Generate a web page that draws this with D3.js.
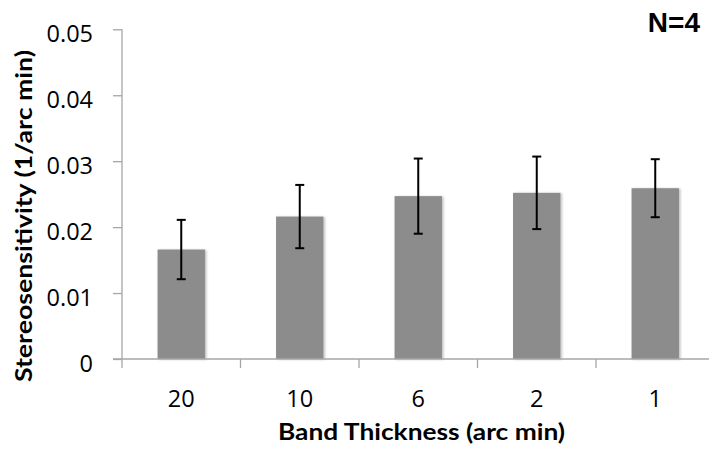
<!DOCTYPE html>
<html>
<head>
<meta charset="utf-8">
<script src="https://cdn.jsdelivr.net/npm/d3@7"></script>
<style>
  html, body { margin: 0; padding: 0; background: #fff; }
  svg { display: block; }
</style>
</head>
<body>
<svg id="chart" width="709" height="449"></svg>
<script>
const categories = ["20", "10", "6", "2", "1"];
const values = [0.0166, 0.0216, 0.0247, 0.0252, 0.0259];
const errors = [0.0045, 0.0048, 0.0057, 0.0055, 0.0044];
const yTicks = [0, 0.01, 0.02, 0.03, 0.04, 0.05];
const yTitle = "Stereosensitivity (1/arc min)";
const xTitle = "Band Thickness (arc min)";
const note = "N=4";

const svg = d3.select("#chart");
const plotLeft = 122, plotRight = 714.5, plotTop = 29.3, plotBottom = 359;
const axisColor = "#a6a6a6";
const font = "Lato, 'Open Sans', sans-serif";
const numFont = "'Open Sans', Lato, sans-serif";

const x = d3.scaleBand().domain(categories).range([plotLeft, plotRight])
  .paddingInner(0.6).paddingOuter(0.3);
const y = d3.scaleLinear().domain([0, 0.05]).range([plotBottom, plotTop]);

const defs = svg.append("defs");
const f = defs.append("filter").attr("id", "shadow")
  .attr("x", "-20%").attr("y", "-20%").attr("width", "140%").attr("height", "140%");
f.append("feDropShadow").attr("dx", 1.5).attr("dy", 0.5).attr("stdDeviation", 1)
  .attr("flood-color", "#000").attr("flood-opacity", 0.25);

// bars
svg.append("g").selectAll("rect").data(values).join("rect")
  .attr("x", (d, i) => x(categories[i]))
  .attr("y", d => y(d))
  .attr("width", x.bandwidth())
  .attr("height", d => y(0) - y(d))
  .attr("fill", "#8c8c8c")
  .attr("filter", "url(#shadow)");

// y axis
const yAxis = d3.axisLeft(y).tickValues(yTicks).tickSize(9).tickFormat(d => d === 0 ? "0" : d3.format(".2f")(d));
const gy = svg.append("g").attr("transform", `translate(${plotLeft},0)`).call(yAxis);
gy.select(".domain").remove();
gy.selectAll(".tick line").attr("stroke", axisColor).attr("stroke-width", 1.3);
gy.selectAll(".tick text").attr("x", -29).attr("dy", "0.72em").attr("y", -4.8)
  .attr("fill", "#000").style("font-family", numFont).style("font-size", "23.5px");
svg.append("line").attr("x1", plotLeft).attr("x2", plotLeft).attr("y1", plotTop).attr("y2", plotBottom + 9)
  .attr("stroke", axisColor).attr("stroke-width", 1.3);

// x axis baseline and boundary ticks
svg.append("line").attr("x1", plotLeft - 9).attr("x2", plotRight).attr("y1", plotBottom).attr("y2", plotBottom)
  .attr("stroke", axisColor).attr("stroke-width", 1.3);
const boundaries = categories.map(c => x(c) + x.bandwidth() / 2 + x.step() / 2);
svg.append("g").selectAll("line").data(boundaries).join("line")
  .attr("x1", d => d).attr("x2", d => d).attr("y1", plotBottom).attr("y2", plotBottom + 9)
  .attr("stroke", axisColor).attr("stroke-width", 1.3);

// x labels
svg.append("g").selectAll("text").data(categories).join("text")
  .attr("x", d => x(d) + x.bandwidth() / 2)
  .attr("y", 406.5)
  .attr("text-anchor", "middle")
  .style("font-family", numFont).style("font-size", "23.5px")
  .text(d => d);

// error bars
const eb = svg.append("g").attr("stroke", "#000").attr("stroke-width", 2);
values.forEach((v, i) => {
  const cx = x(categories[i]) + x.bandwidth() / 2;
  eb.append("line").attr("x1", cx).attr("x2", cx).attr("y1", y(v + errors[i])).attr("y2", y(v - errors[i]));
  eb.append("line").attr("x1", cx - 4.5).attr("x2", cx + 4.5).attr("y1", y(v + errors[i])).attr("y2", y(v + errors[i]));
  eb.append("line").attr("x1", cx - 4.5).attr("x2", cx + 4.5).attr("y1", y(v - errors[i])).attr("y2", y(v - errors[i]));
});

// titles
svg.append("text")
  .attr("transform", "translate(31.5,216) rotate(-90)")
  .attr("text-anchor", "middle")
  .attr("textLength", 332).attr("lengthAdjust", "spacingAndGlyphs")
  .style("font-family", font).style("font-size", "23px").style("font-weight", "bold")
  .text(yTitle);

svg.append("text")
  .attr("x", 421.5).attr("y", 440)
  .attr("text-anchor", "middle")
  .attr("textLength", 287).attr("lengthAdjust", "spacingAndGlyphs")
  .style("font-family", font).style("font-size", "23px").style("font-weight", "bold")
  .text(xTitle);

svg.append("text")
  .attr("x", 700).attr("y", 32.3)
  .attr("text-anchor", "end")
  .style("font-family", "'Liberation Sans', Arial, sans-serif").style("font-size", "28px").style("font-weight", "bold")
  .text(note);
</script>
</body>
</html>
